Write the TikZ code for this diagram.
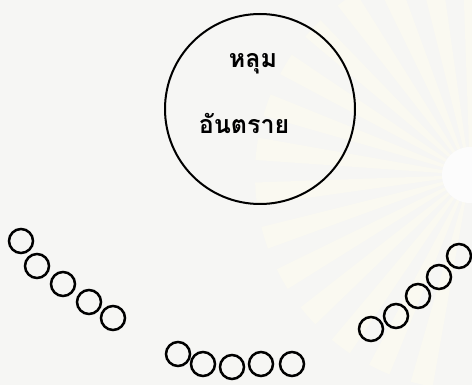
\documentclass[tikz,border=0pt]{standalone}
\usepackage{fontspec}
\newfontfamily\thaifont[Script=Thai]{Loma}
\definecolor{paper}{RGB}{246,246,244}
\definecolor{ray}{RGB}{250,249,241}
\tikzset{
  hole/.style={circle, draw=black, line width=2pt, minimum size=190pt, inner sep=0pt},
  bead/.style={circle, draw=black, line width=2.5pt, minimum size=24pt, inner sep=0pt},
  thaitext/.style={font=\thaifont\bfseries\fontsize{25}{28}\selectfont, inner sep=0pt, text=black}
}
\begin{document}
\begin{tikzpicture}[x=1pt,y=-1pt]
\useasboundingbox (0,0) rectangle (472,385);
\fill[paper] (0,0) rectangle (472,385);
% faint watermark rays
\foreach \a in {100,112,...,268}{
  \fill[ray] (470,175) -- ++(\a:215) arc[start angle=\a, end angle=\a+6, radius=215] -- cycle;
}
\fill[white!70!paper] (470,175) circle (28);
% hazard hole
\node[hole] (hole) at (260,109) {};
\node[thaitext] (t1) at (253,64) {หลุม};
\node[thaitext] (t2) at (244,123) {อันตราย};
% left group
\node[bead] (l1) at (21,241) {};
\node[bead] (l2) at (37,266) {};
\node[bead] (l3) at (63,284) {};
\node[bead] (l4) at (89,302) {};
\node[bead] (l5) at (113,318) {};
% bottom group
\node[bead] (b1) at (178,354) {};
\node[bead] (b2) at (203,364) {};
\node[bead] (b3) at (232,367) {};
\node[bead] (b4) at (261,364) {};
\node[bead] (b5) at (292,364) {};
% right group
\node[bead] (r1) at (371,329) {};
\node[bead] (r2) at (396,316) {};
\node[bead] (r3) at (418,296) {};
\node[bead] (r4) at (439,277) {};
\node[bead] (r5) at (459,256) {};
\end{tikzpicture}
\end{document}
